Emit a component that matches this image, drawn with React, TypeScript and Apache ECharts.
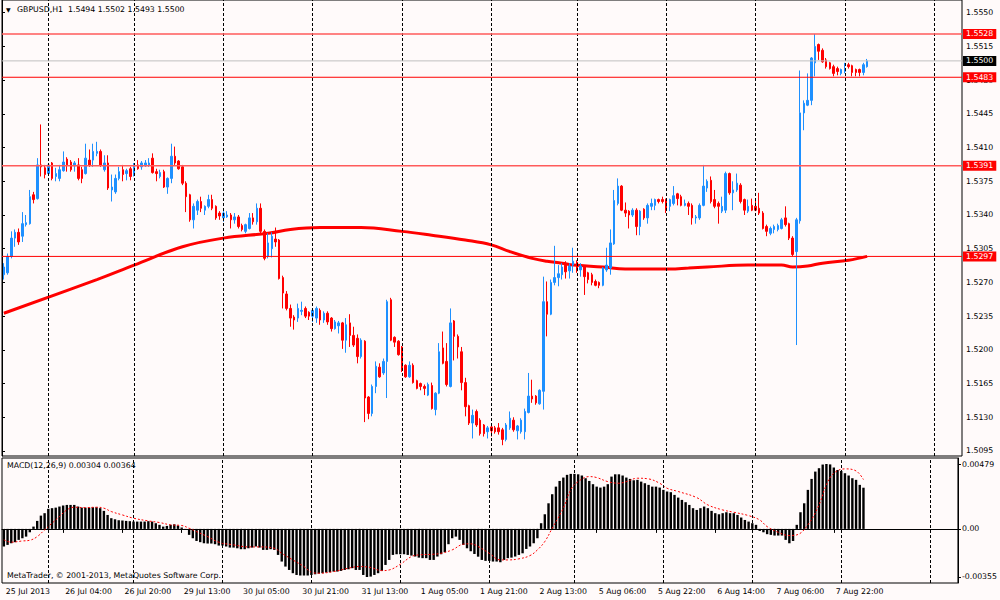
import React, { useEffect, useRef } from "react";
import * as echarts from "echarts";

// GBPUSD H1, one row per hour: [open, close, low, high]
const candles: [number, number, number, number][] = [
  [1.5278, 1.5286, 1.5273, 1.529], [1.528, 1.5297, 1.5278, 1.53], [1.5297, 1.5316, 1.5295, 1.5323], [1.5316, 1.5322, 1.5307, 1.5325],
  [1.5322, 1.5312, 1.5309, 1.5326], [1.5318, 1.5331, 1.5312, 1.5343], [1.533, 1.5332, 1.5328, 1.534], [1.5331, 1.5359, 1.533, 1.5366],
  [1.5361, 1.5356, 1.5352, 1.5364], [1.5357, 1.5392, 1.5356, 1.5399], [1.5392, 1.539, 1.538, 1.5434], [1.5389, 1.5382, 1.5378, 1.5392],
  [1.5383, 1.5392, 1.5382, 1.5394], [1.5394, 1.5378, 1.5376, 1.5395], [1.538, 1.5383, 1.5375, 1.5389], [1.5378, 1.5387, 1.5375, 1.5392],
  [1.5386, 1.5395, 1.5385, 1.5406], [1.5398, 1.5392, 1.5385, 1.54], [1.5395, 1.5387, 1.5385, 1.5397], [1.5391, 1.5394, 1.5385, 1.5396],
  [1.5392, 1.5378, 1.5376, 1.5399], [1.5387, 1.5378, 1.5373, 1.539], [1.5383, 1.5399, 1.5382, 1.5414], [1.5397, 1.5392, 1.539, 1.5408],
  [1.5397, 1.5406, 1.539, 1.5414], [1.5404, 1.5406, 1.5401, 1.5416], [1.5406, 1.5392, 1.539, 1.5408], [1.5387, 1.5394, 1.5385, 1.5402],
  [1.5394, 1.5368, 1.5366, 1.5402], [1.5366, 1.5369, 1.5354, 1.5382], [1.5364, 1.5378, 1.5362, 1.5382], [1.5378, 1.5385, 1.5376, 1.539],
  [1.5387, 1.5382, 1.5375, 1.5392], [1.5383, 1.5386, 1.5376, 1.5388], [1.5388, 1.538, 1.5376, 1.539], [1.5382, 1.5392, 1.538, 1.5394],
  [1.5392, 1.5388, 1.5387, 1.5397], [1.539, 1.5394, 1.5387, 1.5396], [1.5391, 1.5394, 1.539, 1.5397], [1.5392, 1.5394, 1.539, 1.5399],
  [1.5399, 1.5384, 1.5383, 1.5404], [1.5385, 1.5383, 1.5375, 1.5388], [1.538, 1.5384, 1.5378, 1.5387], [1.5385, 1.5369, 1.5368, 1.5387],
  [1.5369, 1.5378, 1.5362, 1.5379], [1.5378, 1.5401, 1.5373, 1.5414], [1.5401, 1.5394, 1.5392, 1.5411], [1.5396, 1.5388, 1.5387, 1.5397],
  [1.539, 1.5373, 1.5371, 1.5392], [1.5373, 1.5359, 1.5343, 1.5375], [1.5361, 1.5335, 1.5333, 1.5362], [1.5335, 1.5349, 1.5326, 1.5352],
  [1.5345, 1.5354, 1.534, 1.5356], [1.5354, 1.5347, 1.5343, 1.5359], [1.5345, 1.5349, 1.534, 1.535], [1.5349, 1.5356, 1.5347, 1.5361],
  [1.5356, 1.5347, 1.5345, 1.5361], [1.5349, 1.5337, 1.5335, 1.535], [1.5342, 1.5339, 1.5335, 1.5344], [1.5337, 1.5342, 1.5333, 1.5344],
  [1.5338, 1.534, 1.5337, 1.5344], [1.534, 1.5335, 1.5326, 1.5342], [1.5335, 1.5338, 1.5331, 1.5342], [1.5338, 1.5328, 1.5326, 1.534],
  [1.5329, 1.5325, 1.5323, 1.5331], [1.5323, 1.533, 1.5321, 1.5331], [1.5326, 1.5337, 1.5325, 1.5342], [1.5337, 1.5333, 1.533, 1.5342],
  [1.5333, 1.5347, 1.533, 1.5352], [1.5347, 1.5323, 1.5321, 1.5352], [1.5323, 1.5295, 1.5293, 1.5325], [1.5297, 1.5311, 1.5295, 1.5321],
  [1.5305, 1.5318, 1.5296, 1.5322], [1.5315, 1.5312, 1.5307, 1.5327], [1.5314, 1.5274, 1.5273, 1.5315], [1.5275, 1.5259, 1.5243, 1.5277],
  [1.5258, 1.5243, 1.5241, 1.5261], [1.5243, 1.5233, 1.5224, 1.5247], [1.5234, 1.5231, 1.5221, 1.5236], [1.5233, 1.5243, 1.5229, 1.5248],
  [1.524, 1.5241, 1.5236, 1.525], [1.5243, 1.5235, 1.5233, 1.5245], [1.5239, 1.5235, 1.5231, 1.524], [1.5235, 1.5241, 1.5229, 1.5243],
  [1.5233, 1.5243, 1.5228, 1.5245], [1.5241, 1.5231, 1.5226, 1.5243], [1.5231, 1.5238, 1.5228, 1.524], [1.5238, 1.5229, 1.5226, 1.524],
  [1.5233, 1.5222, 1.5219, 1.5234], [1.5222, 1.5229, 1.5221, 1.5231], [1.5225, 1.5228, 1.5217, 1.523], [1.5228, 1.521, 1.5201, 1.5229],
  [1.521, 1.5226, 1.5197, 1.5233], [1.5228, 1.5215, 1.5203, 1.5237], [1.5215, 1.5205, 1.5203, 1.5224], [1.5212, 1.5193, 1.5186, 1.5216],
  [1.5193, 1.521, 1.5191, 1.5212], [1.5209, 1.515, 1.5125, 1.521], [1.5151, 1.5134, 1.5128, 1.5152], [1.5134, 1.5162, 1.5131, 1.5164],
  [1.5162, 1.5183, 1.5155, 1.5188], [1.5182, 1.5172, 1.5171, 1.5186], [1.5176, 1.5188, 1.5174, 1.5191], [1.5188, 1.525, 1.515, 1.5252],
  [1.5252, 1.521, 1.5209, 1.5254], [1.5213, 1.5208, 1.5203, 1.5214], [1.5209, 1.5195, 1.5194, 1.521], [1.5203, 1.5179, 1.5177, 1.5204],
  [1.5184, 1.5172, 1.5171, 1.5185], [1.5172, 1.5184, 1.5171, 1.5188], [1.5184, 1.5166, 1.5165, 1.5186], [1.5168, 1.516, 1.5159, 1.5169],
  [1.5165, 1.5162, 1.5158, 1.5166], [1.5162, 1.516, 1.5153, 1.5164], [1.5153, 1.5164, 1.5152, 1.5166], [1.5163, 1.5139, 1.5138, 1.5166],
  [1.5138, 1.5155, 1.5132, 1.5156], [1.5155, 1.5198, 1.5154, 1.5207], [1.5202, 1.5186, 1.5185, 1.5219], [1.5188, 1.5164, 1.5162, 1.5207],
  [1.5162, 1.5228, 1.5161, 1.5243], [1.523, 1.5214, 1.5189, 1.5231], [1.5214, 1.5203, 1.5191, 1.5216], [1.5198, 1.5166, 1.5158, 1.5203],
  [1.5166, 1.5141, 1.5131, 1.5171], [1.5142, 1.5124, 1.5122, 1.5143], [1.5124, 1.5132, 1.5108, 1.5138], [1.5136, 1.5122, 1.512, 1.5138],
  [1.5127, 1.5113, 1.5111, 1.5129], [1.5122, 1.5113, 1.511, 1.5123], [1.5115, 1.5119, 1.5108, 1.5121], [1.512, 1.5116, 1.511, 1.5121],
  [1.5119, 1.5115, 1.5113, 1.5121], [1.5119, 1.5115, 1.5112, 1.5124], [1.5117, 1.5107, 1.5101, 1.5119], [1.5107, 1.5122, 1.5105, 1.5124],
  [1.5119, 1.5129, 1.5117, 1.5136], [1.5127, 1.5117, 1.5115, 1.513], [1.5116, 1.5121, 1.5107, 1.5122], [1.5115, 1.5127, 1.5113, 1.5129],
  [1.5115, 1.5136, 1.5107, 1.5139], [1.5135, 1.5152, 1.5134, 1.5176], [1.5152, 1.5149, 1.5145, 1.5169], [1.5152, 1.5145, 1.5143, 1.5153],
  [1.5144, 1.5158, 1.5143, 1.5159], [1.5157, 1.525, 1.5138, 1.5276], [1.525, 1.5237, 1.5214, 1.5271], [1.5237, 1.527, 1.5236, 1.5273],
  [1.527, 1.5275, 1.5267, 1.5308], [1.5275, 1.5279, 1.5266, 1.5288], [1.5278, 1.5286, 1.5273, 1.529], [1.5288, 1.5281, 1.5274, 1.5292],
  [1.5282, 1.5287, 1.5274, 1.529], [1.5288, 1.5292, 1.528, 1.5306], [1.5291, 1.5282, 1.528, 1.5293], [1.5283, 1.5287, 1.5276, 1.529],
  [1.5286, 1.5276, 1.5257, 1.5288], [1.528, 1.5273, 1.5269, 1.5281], [1.5278, 1.527, 1.5267, 1.528], [1.5271, 1.5267, 1.5266, 1.5273],
  [1.527, 1.5267, 1.5264, 1.5271], [1.5267, 1.5285, 1.5266, 1.5286], [1.5283, 1.5288, 1.5281, 1.5306], [1.5285, 1.5311, 1.5278, 1.5325],
  [1.531, 1.5355, 1.5309, 1.5366], [1.5352, 1.537, 1.535, 1.5378], [1.537, 1.5345, 1.5344, 1.5371], [1.5345, 1.5342, 1.5338, 1.5353],
  [1.5344, 1.534, 1.5326, 1.5345], [1.534, 1.5345, 1.5338, 1.5347], [1.5345, 1.5328, 1.5319, 1.5347], [1.5328, 1.5344, 1.5319, 1.5345],
  [1.5346, 1.5337, 1.5335, 1.5347], [1.5337, 1.535, 1.5331, 1.5352], [1.5349, 1.5352, 1.5345, 1.5357], [1.535, 1.5356, 1.5345, 1.5357],
  [1.5356, 1.5354, 1.5352, 1.5357], [1.5356, 1.5354, 1.5352, 1.5359], [1.5356, 1.5345, 1.5342, 1.5357], [1.5349, 1.5356, 1.5344, 1.5357],
  [1.5352, 1.536, 1.535, 1.537], [1.5362, 1.5357, 1.535, 1.5363], [1.5359, 1.535, 1.5349, 1.5361], [1.535, 1.5352, 1.5349, 1.5356],
  [1.5352, 1.5349, 1.534, 1.5354], [1.535, 1.5337, 1.533, 1.5352], [1.5337, 1.5338, 1.5331, 1.534], [1.5337, 1.535, 1.5335, 1.5352],
  [1.535, 1.537, 1.5349, 1.5392], [1.5368, 1.5375, 1.5364, 1.5377], [1.5376, 1.5354, 1.5352, 1.538], [1.5356, 1.5349, 1.5347, 1.5366],
  [1.5352, 1.5349, 1.5331, 1.5354], [1.5344, 1.5349, 1.5342, 1.5359], [1.5345, 1.5383, 1.5342, 1.5385], [1.5383, 1.5363, 1.5361, 1.5384],
  [1.5363, 1.5366, 1.5345, 1.5375], [1.5366, 1.5373, 1.5364, 1.5383], [1.5371, 1.5354, 1.5352, 1.5373], [1.5356, 1.5345, 1.534, 1.5357],
  [1.5344, 1.5349, 1.5342, 1.5356], [1.535, 1.5345, 1.5344, 1.5357], [1.5349, 1.5345, 1.5344, 1.5356], [1.5347, 1.5342, 1.534, 1.5363],
  [1.5342, 1.5326, 1.5325, 1.5344], [1.5328, 1.5323, 1.5318, 1.533], [1.5321, 1.5326, 1.5319, 1.5328], [1.5325, 1.5328, 1.5321, 1.533],
  [1.5325, 1.5329, 1.5323, 1.5331], [1.5326, 1.5335, 1.5325, 1.5337], [1.5337, 1.533, 1.5328, 1.5349], [1.5331, 1.5316, 1.5314, 1.5332],
  [1.5316, 1.5299, 1.5297, 1.5318], [1.5302, 1.5335, 1.5205, 1.5337], [1.5334, 1.5446, 1.5331, 1.549], [1.5446, 1.5456, 1.5428, 1.5459],
  [1.5454, 1.5459, 1.5453, 1.5487], [1.5459, 1.5503, 1.5454, 1.5504], [1.5498, 1.5515, 1.5484, 1.5528], [1.5517, 1.551, 1.5501, 1.5518],
  [1.5511, 1.5499, 1.5498, 1.5513], [1.5501, 1.5494, 1.5492, 1.5503], [1.5498, 1.5492, 1.5491, 1.5499], [1.5494, 1.5487, 1.5484, 1.5496],
  [1.5492, 1.5489, 1.5485, 1.5494], [1.5487, 1.5491, 1.5485, 1.5492], [1.5489, 1.5492, 1.5487, 1.5498], [1.5496, 1.5494, 1.5492, 1.5498],
  [1.5495, 1.5488, 1.5484, 1.5496], [1.5491, 1.5488, 1.5484, 1.5492], [1.5491, 1.5488, 1.5484, 1.5492], [1.5488, 1.5496, 1.5485, 1.5498],
  [1.5494, 1.55, 1.5493, 1.5502],
];

// moving average read at a few bars: [bar, price]
const maPoints: [number, number][] = [
  [0, 1.5238], [25, 1.5273], [35, 1.5288], [48, 1.5307], [59, 1.5316], [71, 1.5321], [77, 1.5325], [85, 1.5327],
  [96, 1.5327], [107, 1.5323], [115, 1.5319], [124, 1.5314], [131, 1.5309], [136, 1.5302], [142, 1.5295], [146, 1.5292],
  [150, 1.529], [153, 1.5288], [161, 1.5286], [167, 1.5284], [179, 1.5284], [184, 1.5285], [189, 1.5286], [200, 1.5288],
  [209, 1.5288], [212, 1.5286], [216, 1.5287], [220, 1.529], [227, 1.5293], [232, 1.5297],
];

const macdHist = [
  -0.0013, -0.00118, -0.00106, -0.00098, -0.00081, -0.00069, -0.00057, -0.00025, 0.00017, 0.00059,
  0.00098, 0.00116, 0.00148, 0.00153, 0.00157, 0.00165, 0.00172, 0.00177, 0.00177, 0.00177,
  0.00165, 0.00157, 0.00157, 0.00157, 0.0016, 0.0016, 0.00153, 0.00133, 0.00103, 0.00079,
  0.00071, 0.00064, 0.00062, 0.00059, 0.00057, 0.00054, 0.00054, 0.00054, 0.00054, 0.00057,
  0.00054, 0.00042, 0.0003, 0.00017, 0.00022, 0.0003, 0.00034, 0.00025, 0.0001, -0.00007,
  -0.00044, -0.00069, -0.00089, -0.00098, -0.00106, -0.00108, -0.00108, -0.00113, -0.00123, -0.00123,
  -0.0013, -0.00138, -0.00138, -0.00143, -0.0015, -0.0015, -0.00143, -0.00138, -0.0013, -0.00138,
  -0.00155, -0.00155, -0.0015, -0.00155, -0.00192, -0.00241, -0.00278, -0.00303, -0.00327, -0.0034,
  -0.00344, -0.00344, -0.00344, -0.0034, -0.00335, -0.0033, -0.00327, -0.00322, -0.0032, -0.00315,
  -0.00315, -0.0031, -0.00303, -0.00298, -0.0029, -0.00303, -0.00303, -0.0034, -0.00355, -0.00352,
  -0.0034, -0.00327, -0.0031, -0.00266, -0.00229, -0.00192, -0.00187, -0.00187, -0.00187, -0.00192,
  -0.00197, -0.00204, -0.00212, -0.00216, -0.00216, -0.00229, -0.00229, -0.00204, -0.00187, -0.00172,
  -0.00113, -0.00069, -0.00057, -0.00081, -0.00118, -0.00143, -0.00165, -0.00185, -0.00205, -0.00229,
  -0.00236, -0.00236, -0.00241, -0.00241, -0.00246, -0.00229, -0.00216, -0.00212, -0.00204, -0.00192,
  -0.0018, -0.00148, -0.0013, -0.00106, -0.00069, 0.00042, 0.00108, 0.00189, 0.00256, 0.00312,
  0.00354, 0.00379, 0.00399, 0.00406, 0.00406, 0.00403, 0.00394, 0.00374, 0.00354, 0.0033,
  0.00312, 0.00305, 0.00312, 0.0033, 0.00386, 0.00403, 0.00403, 0.00394, 0.00379, 0.00369,
  0.00359, 0.00362, 0.00349, 0.00337, 0.00325, 0.00312, 0.00312, 0.00305, 0.00288, 0.00276,
  0.00271, 0.00251, 0.00231, 0.00214, 0.00197, 0.00177, 0.00153, 0.0014, 0.00153, 0.00165,
  0.00153, 0.00133, 0.00116, 0.00108, 0.00116, 0.00123, 0.00116, 0.00116, 0.00103, 0.00084,
  0.00066, 0.00054, 0.00042, 0.0003, -0.00015, -0.00025, -0.00039, -0.00044, -0.00049, -0.00049,
  -0.00049, -0.00081, -0.00106, -0.00089, 0.0003, 0.00123, 0.00189, 0.00288, 0.00369, 0.00423,
  0.00448, 0.00475, 0.00479, 0.00476, 0.00453, 0.00435, 0.00428, 0.00411, 0.00394, 0.00374,
  0.00362, 0.00325, 0.00304,
];

// signal line read at a few bars: [bar, value]
const signalPoints: [number, number][] = [
  [0, -0.00081], [2, -0.00098], [5, -0.00089], [7, -0.00084], [9, -0.00057], [11, -0.00007], [13, 0.00042], [15, 0.00091],
  [17, 0.0014], [19, 0.0016], [22, 0.00157], [25, 0.0016], [27, 0.00153], [29, 0.00128], [32, 0.00103], [35, 0.00079],
  [39, 0.00059], [42, 0.00047], [45, 0.0003], [48, 0.00025], [50, 0.00005], [52, -0.0002], [55, -0.00057], [58, -0.00098],
  [62, -0.00118], [66, -0.00133], [69, -0.00133], [73, -0.00143], [75, -0.0018], [78, -0.00229], [81, -0.00278], [83, -0.0032],
  [85, -0.00327], [89, -0.00315], [93, -0.0029], [96, -0.00278], [99, -0.00285], [102, -0.00308], [104, -0.00303], [107, -0.00261],
  [110, -0.00204], [112, -0.00192], [116, -0.00187], [118, -0.0018], [121, -0.00155], [124, -0.00113], [126, -0.0011], [128, -0.0013],
  [131, -0.0018], [134, -0.00229], [136, -0.00229], [139, -0.00221], [142, -0.00197], [144, -0.00155], [146, -0.00093], [148, 0.00005],
  [151, 0.00153], [153, 0.00288], [155, 0.00349], [158, 0.00386], [160, 0.00379], [163, 0.00349], [166, 0.00337], [168, 0.00349],
  [171, 0.00374], [174, 0.00369], [177, 0.00337], [179, 0.003], [182, 0.00276], [187, 0.00231], [190, 0.00177], [194, 0.0014],
  [197, 0.00123], [201, 0.00098], [204, 0.00066], [206, 0.00017], [209, -0.00025], [212, -0.00049], [214, -0.00044], [217, 0.0003],
  [220, 0.00177], [222, 0.00325], [224, 0.00411], [227, 0.00443], [230, 0.00428], [232, 0.00364],
];

const tickLabels = [
  "25 Jul 2013", "26 Jul 04:00", "26 Jul 20:00", "29 Jul 13:00", "30 Jul 05:00", "30 Jul 21:00", "31 Jul 13:00",
  "1 Aug 05:00", "1 Aug 21:00", "2 Aug 13:00", "5 Aug 06:00", "5 Aug 22:00", "6 Aug 14:00", "7 Aug 06:00", "7 Aug 22:00",
];
const dayStarts = [12, 35, 59, 83, 107, 131, 154, 178, 202, 226, 250];
const priceTicks = [1.5095, 1.513, 1.5165, 1.52, 1.5235, 1.527, 1.5305, 1.534, 1.5375, 1.541, 1.5445, 1.548, 1.5515, 1.555];
const macdTicks = [-0.00355, 0, 0.00479];
// horizontal levels drawn on the chart; the lighter ones are flagged
const levels = [1.5528, 1.5483, 1.5391, 1.5297];
const lightLevels = [1.5528, 1.5391];
const bid = 1.55;

const SLOTS = 258;
const FONT = '"DejaVu Sans", sans-serif';
const FS = 7.8;

const App: React.FC = () => {
  const chartRef = useRef<HTMLDivElement>(null);

  useEffect(() => {
    document.body.style.margin = "0";
    if (!chartRef.current) return;
    const chart = echarts.init(chartRef.current, null, { renderer: "svg" });

    const slots = Array.from({ length: SLOTS }, (_, i) => String(i));
    const showTick = (i: number) => i % 16 === 0 && i / 16 < tickLabels.length;

    const dashed = dayStarts.map((i) => ({ xAxis: i }));
    const dashedMarks = {
      silent: true,
      symbol: ["none", "none"],
      animation: false,
      label: { show: false },
      lineStyle: { color: "#000", type: [3, 2], width: 1 },
      data: dashed,
    };

    // a full-width horizontal line on grid 0, with its price box at the right end
    const hLine = (v: number, color: string, width: number, box: string) => ({
      type: "line",
      xAxisIndex: 2,
      yAxisIndex: 0,
      data: [[0, v], [1, v]],
      symbol: "none",
      silent: true,
      lineStyle: { color, width, type: "solid" },
      itemStyle: { color },
      endLabel: {
        show: true,
        distance: 1,
        formatter: v.toFixed(4),
        color: "#fff",
        backgroundColor: box,
        padding: [1, 3, 1, 3],
        fontSize: FS,
        fontFamily: FONT,
      },
      z: 5,
    });

    const levelSeries = levels.map((v) =>
      lightLevels.includes(v) ? hLine(v, "#ff5a5a", 1.5, "#ff0000") : hLine(v, "#ff0000", 1, "#ff0000"),
    );

    const axisText = { color: "#000", fontSize: FS, fontFamily: FONT };

    chart.setOption({
      animation: false,
      backgroundColor: "#fffafa",
      grid: [
        { left: 2, top: 0, width: 960, height: 456, show: true, borderColor: "#000", borderWidth: 1, backgroundColor: "transparent" },
        { left: 2, top: 458, width: 960, height: 125, show: true, borderColor: "#000", borderWidth: 1, backgroundColor: "transparent" },
      ],
      xAxis: [
        {
          type: "category",
          gridIndex: 0,
          data: slots,
          boundaryGap: true,
          axisLine: { show: false },
          axisTick: { show: false },
          axisLabel: { show: false },
          splitLine: { show: false },
        },
        {
          type: "category",
          gridIndex: 1,
          data: slots,
          boundaryGap: true,
          axisLine: { show: true, lineStyle: { color: "#000", width: 1 } },
          axisTick: { show: true, interval: showTick, alignWithLabel: true, length: 4, lineStyle: { color: "#000" } },
          axisLabel: {
            ...axisText,
            interval: showTick,
            align: "left",
            margin: 4,
            padding: [0, 0, 0, 2],
            formatter: (_: string, idx: number) => tickLabels[idx / 16] ?? "",
          },
          splitLine: { show: false },
        },
        { type: "value", gridIndex: 0, min: 0, max: 1, show: false },
      ],
      yAxis: [
        {
          type: "value",
          gridIndex: 0,
          position: "right",
          min: 1.50898,
          max: 1.55632,
          axisLine: { show: true, lineStyle: { color: "#000" } },
          axisTick: { show: true, length: 3, customValues: priceTicks, lineStyle: { color: "#000" } },
          axisLabel: { ...axisText, margin: 4, customValues: priceTicks, formatter: (v: number) => v.toFixed(4) },
          splitLine: { show: false },
        },
        {
          type: "value",
          gridIndex: 1,
          position: "right",
          min: -0.003993,
          max: 0.005233,
          axisLine: { show: true, lineStyle: { color: "#000" } },
          axisTick: { show: true, length: 3, customValues: macdTicks, lineStyle: { color: "#000" } },
          axisLabel: {
            ...axisText,
            margin: 4,
            customValues: macdTicks,
            formatter: (v: number) => (v === 0 ? "0.00" : v.toFixed(5)),
          },
          splitLine: { show: false },
        },
      ],
      series: [
        {
          name: "MA",
          type: "line",
          xAxisIndex: 0,
          yAxisIndex: 0,
          data: maPoints,
          smooth: 0.4,
          showSymbol: false,
          symbol: "none",
          connectNulls: true,
          lineStyle: { color: "#ff0000", width: 3 },
          itemStyle: { color: "#ff0000" },
          z: 2,
        },
        {
          name: "GBPUSD",
          type: "candlestick",
          xAxisIndex: 0,
          yAxisIndex: 0,
          data: candles,
          barWidth: 2,
          itemStyle: {
            color: "#1e90ff",
            color0: "#ff0000",
            borderColor: "#1e90ff",
            borderColor0: "#ff0000",
            borderWidth: 1,
          },
          markLine: dashedMarks,
          z: 3,
        },
        hLine(bid, "#c0c0c0", 1, "#000"),
        ...levelSeries,
        {
          name: "MACD",
          type: "bar",
          xAxisIndex: 1,
          yAxisIndex: 1,
          data: macdHist,
          barWidth: 2.4,
          itemStyle: { color: "#000" },
          markLine: dashedMarks,
        },
        {
          name: "Signal",
          type: "line",
          xAxisIndex: 1,
          yAxisIndex: 1,
          data: signalPoints,
          smooth: 0.4,
          showSymbol: false,
          symbol: "none",
          lineStyle: { color: "#ff0000", width: 1, type: [2, 2] },
          itemStyle: { color: "#ff0000" },
          z: 4,
        },
      ],
      graphic: [
        { type: "text", left: 6, top: 6, style: { text: "▼", fill: "#000", font: `6px ${FONT}` } },
        {
          type: "text",
          left: 17,
          top: 5,
          style: { text: "GBPUSD,H1\u00a0\u00a01.5494 1.5502 1.5493 1.5500", fill: "#000", font: `${FS}px ${FONT}` },
        },
        {
          type: "text",
          left: 7,
          top: 461,
          style: { text: "MACD(12,26,9) 0.00304 0.00364", fill: "#000", font: `${FS}px ${FONT}` },
        },
        {
          type: "text",
          left: 7,
          top: 571,
          style: { text: "MetaTrader, © 2001-2013, MetaQuotes Software Corp.", fill: "#000", font: `${FS}px ${FONT}` },
        },
      ],
    });

    return () => {
      chart.dispose();
    };
  }, []);

  return <div ref={chartRef} style={{ width: "1000px", height: "600px" }} />;
};

export default App;
